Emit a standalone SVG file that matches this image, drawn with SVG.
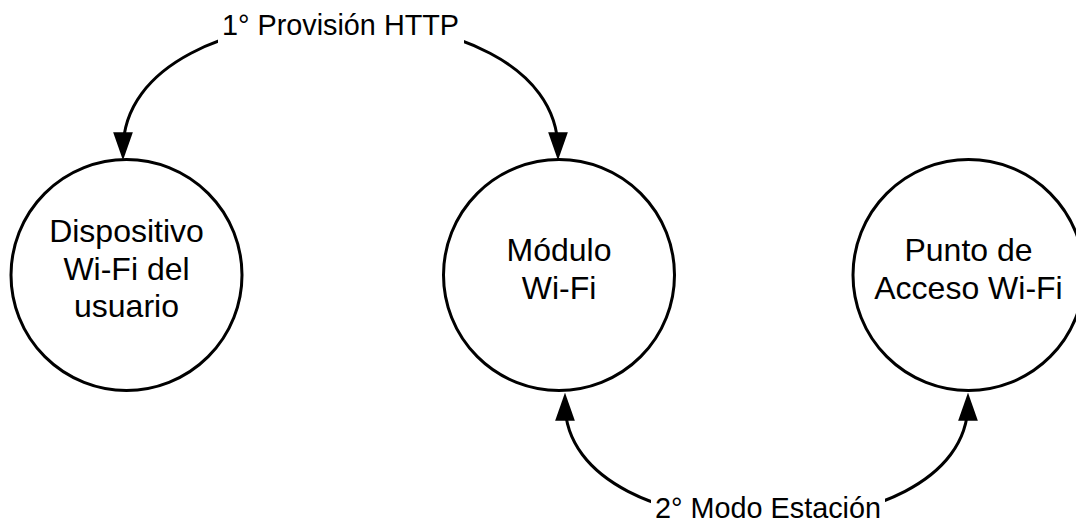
<svg xmlns="http://www.w3.org/2000/svg" width="1076" height="523" viewBox="0 0 1076 523">
  <style>
    .node { fill: #ffffff; stroke: #000000; stroke-width: 3; }
    .ntext { font-family: "Liberation Sans", Arial, sans-serif; font-size: 32px; fill: #000000; text-anchor: middle; }
    .ltext { font-family: "Liberation Sans", Arial, sans-serif; font-size: 28.8px; fill: #000000; text-anchor: middle; }
    .edge { fill: none; stroke: #000000; stroke-width: 3; marker-start: url(#arrow); marker-end: url(#arrow); }
    .lbg { fill: #ffffff; stroke: none; }
  </style>
  <defs>
    <marker id="arrow" markerUnits="userSpaceOnUse" markerWidth="28" markerHeight="20" viewBox="0 0 27 19" refX="17" refY="9.5" orient="auto-start-reverse">
      <path d="M0,0 L27,9.5 L0,19 Z" fill="#000000"/>
    </marker>
  </defs>
  <rect x="0" y="0" width="1076" height="523" fill="#ffffff"/>

  <g id="connectors">
    <g id="edge-provision">
      <path class="edge" d="M123,150 C123,-22 558,-22 558,150"/>
      <rect class="lbg" x="218" y="4" width="246" height="42"/>
      <text class="ltext" x="340.5" y="34.5">1° Provisión HTTP</text>
    </g>
    <g id="edge-estacion">
      <path class="edge" d="M565,403 C565,560 968,560 968,403"/>
      <rect class="lbg" x="651" y="494" width="234" height="29"/>
      <text class="ltext" x="768" y="517.5">2° Modo Estación</text>
    </g>
  </g>

  <g id="node-dispositivo">
    <circle class="node" cx="126.5" cy="275" r="115.5"/>
    <text class="ntext" x="126.5" y="242">Dispositivo</text>
    <text class="ntext" x="126.5" y="279.5">Wi-Fi del</text>
    <text class="ntext" x="126.5" y="317">usuario</text>
  </g>

  <g id="node-modulo">
    <circle class="node" cx="559" cy="275" r="115.5"/>
    <text class="ntext" x="559" y="261">Módulo</text>
    <text class="ntext" x="559" y="298.5">Wi-Fi</text>
  </g>

  <g id="node-punto">
    <circle class="node" cx="968.5" cy="275" r="115.5"/>
    <text class="ntext" x="968.5" y="261">Punto de</text>
    <text class="ntext" x="968.5" y="298.5">Acceso Wi-Fi</text>
  </g>
</svg>
